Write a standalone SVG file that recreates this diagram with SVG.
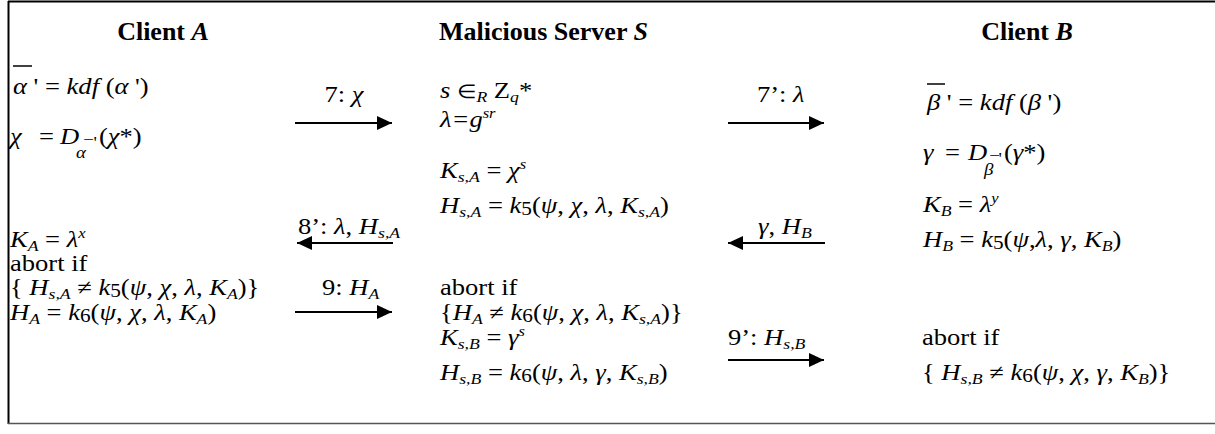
<svg xmlns="http://www.w3.org/2000/svg" width="1215" height="434" viewBox="0 0 1215 434">
<style>
.t{font-family:"Liberation Serif","Times New Roman",serif;font-size:22.5px;fill:#000}
.h{font-weight:bold;font-size:26px}
.i{font-style:italic}
.s{font-size:15px}
.p{font-size:14px}
.n{font-size:18px}
.sm{font-size:16px}
.el{font-size:19px}
.frame{stroke:#000;stroke-width:2;fill:none}
.conn line{stroke:#000;stroke-width:2;marker-end:url(#ah)}
.bar{stroke:#000;stroke-width:1.5}
</style>
<defs>
<marker id="ah" markerUnits="userSpaceOnUse" markerWidth="16" markerHeight="16" refX="15" refY="7" orient="auto">
<path d="M0,0 L15,7 L0,14 z" fill="#000"/>
</marker>
</defs>
<g id="frame">
<line class="frame" x1="8" y1="1.5" x2="1215" y2="1.5"/>
<line class="frame" x1="8.5" y1="1" x2="8.5" y2="424"/>
<line x1="8" y1="423.5" x2="1215" y2="423.5" stroke="#555" stroke-width="1.5"/>
</g>
<g id="clientA">
<text class="t h" x="163" y="40" text-anchor="middle">Client <tspan class="i">A</tspan></text>
<line class="bar" x1="13" y1="66" x2="32" y2="66"/>
<g transform="scale(1.18,1)">
<text class="t" x="11.02" y="94"><tspan class="i">α</tspan> ' = <tspan class="i">kdf</tspan> (<tspan class="i">α</tspan> ')</text>
<text class="t i" x="8.47" y="144">χ</text>
<text class="t" x="33.05" y="144">=</text>
<text class="t i" x="50.85" y="144">D</text>
<text class="t sm" x="70.5" y="145">−</text>
<text class="t sm i" x="64.4" y="158">α</text>
<text class="t sm" x="79.2" y="148">'</text>
<text class="t" x="83.9" y="144">(<tspan class="i">χ</tspan>*)</text>
<text class="t" x="8.47" y="247"><tspan class="i">K</tspan><tspan class="s i" dy="4">A</tspan><tspan dy="-4"> = </tspan><tspan class="i">λ</tspan><tspan class="p i" dy="-9">x</tspan></text>
<text class="t" x="8.47" y="271">abort if</text>
<text class="t" x="8.47" y="295">{ <tspan class="i">H</tspan><tspan class="s i" dy="4">s,A</tspan><tspan dy="-4"> ≠ </tspan><tspan class="i">k</tspan><tspan class="n" dy="2">5</tspan><tspan dy="-2">(</tspan><tspan class="i">ψ</tspan>, <tspan class="i">χ</tspan>, <tspan class="i">λ</tspan>, <tspan class="i">K</tspan><tspan class="s i" dy="4">A</tspan><tspan dy="-4">)}</tspan></text>
<text class="t" x="8.47" y="320"><tspan class="i">H</tspan><tspan class="s i" dy="4">A</tspan><tspan dy="-4"> = </tspan><tspan class="i">k</tspan><tspan class="n" dy="2">6</tspan><tspan dy="-2">(</tspan><tspan class="i">ψ</tspan>, <tspan class="i">χ</tspan>, <tspan class="i">λ</tspan>, <tspan class="i">K</tspan><tspan class="s i" dy="4">A</tspan><tspan dy="-4">)</tspan></text>
</g>
</g>
<g id="serverS">
<text class="t h" x="439" y="40">Malicious Server <tspan class="i">S</tspan></text>
<g transform="scale(1.18,1)">
<text class="t" x="372.88" y="98"><tspan class="i">s</tspan> <tspan class="el">∈</tspan><tspan class="s i" dy="4">R</tspan><tspan dy="-4"> Z</tspan><tspan class="s i" dy="4">q</tspan><tspan dy="-4">*</tspan></text>
<text class="t" x="372.88" y="127"><tspan class="i">λ=g</tspan><tspan class="p i" dy="-9">sr</tspan></text>
<text class="t" x="372.88" y="178"><tspan class="i">K</tspan><tspan class="s i" dy="4">s,A</tspan><tspan dy="-4"> = </tspan><tspan class="i">χ</tspan><tspan class="p i" dy="-9">s</tspan></text>
<text class="t" x="372.88" y="213"><tspan class="i">H</tspan><tspan class="s i" dy="4">s,A</tspan><tspan dy="-4"> = </tspan><tspan class="i">k</tspan><tspan class="n" dy="2">5</tspan><tspan dy="-2">(</tspan><tspan class="i">ψ</tspan>, <tspan class="i">χ</tspan>, <tspan class="i">λ</tspan>, <tspan class="i">K</tspan><tspan class="s i" dy="4">s,A</tspan><tspan dy="-4">)</tspan></text>
<text class="t" x="372.88" y="295">abort if</text>
<text class="t" x="372.88" y="320">{<tspan class="i">H</tspan><tspan class="s i" dy="4">A</tspan><tspan dy="-4"> ≠ </tspan><tspan class="i">k</tspan><tspan class="n" dy="2">6</tspan><tspan dy="-2">(</tspan><tspan class="i">ψ</tspan>, <tspan class="i">χ</tspan>, <tspan class="i">λ</tspan>, <tspan class="i">K</tspan><tspan class="s i" dy="4">s,A</tspan><tspan dy="-4">)}</tspan></text>
<text class="t" x="372.88" y="345"><tspan class="i">K</tspan><tspan class="s i" dy="4">s,B</tspan><tspan dy="-4"> = </tspan><tspan class="i">γ</tspan><tspan class="p i" dy="-9">s</tspan></text>
<text class="t" x="372.88" y="380"><tspan class="i">H</tspan><tspan class="s i" dy="4">s,B</tspan><tspan dy="-4"> = </tspan><tspan class="i">k</tspan><tspan class="n" dy="2">6</tspan><tspan dy="-2">(</tspan><tspan class="i">ψ</tspan>, <tspan class="i">λ</tspan>, <tspan class="i">γ</tspan>, <tspan class="i">K</tspan><tspan class="s i" dy="4">s,B</tspan><tspan dy="-4">)</tspan></text>
</g>
</g>
<g id="clientB">
<text class="t h" x="1027" y="40" text-anchor="middle">Client <tspan class="i">B</tspan></text>
<line class="bar" x1="927" y1="84" x2="945" y2="84"/>
<g transform="scale(1.18,1)">
<text class="t" x="785.59" y="110"><tspan class="i">β</tspan> ' = <tspan class="i">kdf</tspan> (<tspan class="i">β</tspan> ')</text>
<text class="t i" x="782.2" y="160">γ</text>
<text class="t" x="800.85" y="160">=</text>
<text class="t i" x="820.34" y="160">D</text>
<text class="t sm" x="838.3" y="161">−</text>
<text class="t sm i" x="833.9" y="175">β</text>
<text class="t sm" x="846.2" y="164">'</text>
<text class="t" x="850.85" y="160">(<tspan class="i">γ</tspan>*)</text>
<text class="t" x="782.2" y="212"><tspan class="i">K</tspan><tspan class="s i" dy="4">B</tspan><tspan dy="-4"> = </tspan><tspan class="i">λ</tspan><tspan class="p i" dy="-9">y</tspan></text>
<text class="t" x="782.2" y="247"><tspan class="i">H</tspan><tspan class="s i" dy="4">B</tspan><tspan dy="-4"> = </tspan><tspan class="i">k</tspan><tspan class="n" dy="2">5</tspan><tspan dy="-2">(</tspan><tspan class="i">ψ</tspan>,<tspan class="i">λ</tspan>, <tspan class="i">γ</tspan>, <tspan class="i">K</tspan><tspan class="s i" dy="4">B</tspan><tspan dy="-4">)</tspan></text>
<text class="t" x="781.36" y="345">abort if</text>
<text class="t" x="781.36" y="380">{ <tspan class="i">H</tspan><tspan class="s i" dy="4">s,B</tspan><tspan dy="-4"> ≠ </tspan><tspan class="i">k</tspan><tspan class="n" dy="2">6</tspan><tspan dy="-2">(</tspan><tspan class="i">ψ</tspan>, <tspan class="i">χ</tspan>, <tspan class="i">γ</tspan>, <tspan class="i">K</tspan><tspan class="s i" dy="4">B</tspan><tspan dy="-4">)}</tspan></text>
</g>
</g>
<g id="connectors" class="conn">
<line x1="295" y1="123" x2="392" y2="123"/>
<line x1="393" y1="243" x2="297" y2="243"/>
<line x1="295" y1="312" x2="392" y2="312"/>
<line x1="728" y1="123" x2="824" y2="123"/>
<line x1="825" y1="243" x2="728" y2="243"/>
<line x1="728" y1="360" x2="824" y2="360"/>
</g>
<g id="labels" transform="scale(1.18,1)">
<text class="t" x="291.53" y="102" text-anchor="middle">7: <tspan class="i">χ</tspan></text>
<text class="t" x="252.54" y="234">8’: <tspan class="i">λ</tspan>, <tspan class="i">H</tspan><tspan class="s i" dy="4">s,A</tspan></text>
<text class="t" x="272.88" y="295">9: <tspan class="i">H</tspan><tspan class="s i" dy="4">A</tspan></text>
<text class="t" x="641.53" y="102">7’: <tspan class="i">λ</tspan></text>
<text class="t" x="642.37" y="234"><tspan class="i">γ</tspan>, <tspan class="i">H</tspan><tspan class="s i" dy="4">B</tspan></text>
<text class="t" x="616.95" y="345">9’: <tspan class="i">H</tspan><tspan class="s i" dy="4">s,B</tspan></text>
</g>
</svg>
